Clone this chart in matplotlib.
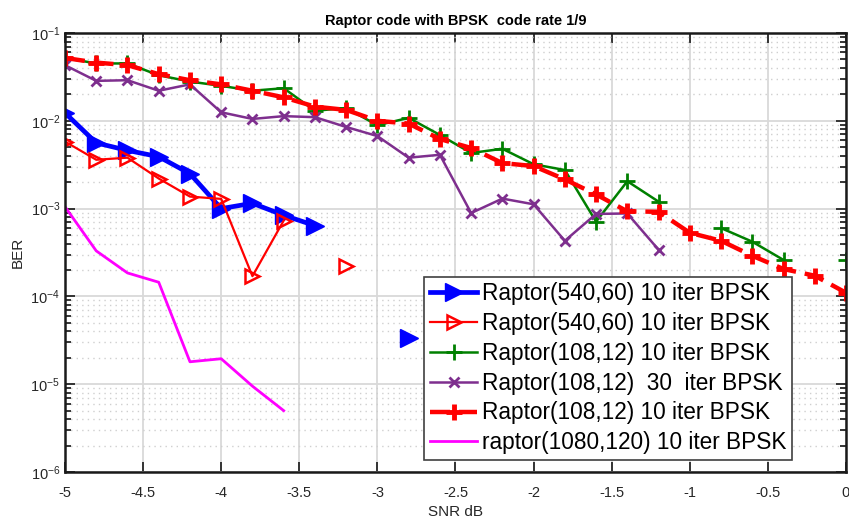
import numpy as np
import matplotlib
matplotlib.use("Agg")
import matplotlib.pyplot as plt
from matplotlib.ticker import LogLocator, NullFormatter, FixedLocator

plt.rcParams['font.family'] = ['Liberation Sans', 'DejaVu Sans']

# SNR grid (dB)
snr_blue = [-5, -4.8, -4.6, -4.4, -4.2, -4.0, -3.8, -3.6, -3.4, -3.2, -3.0, -2.8]
ber_blue = [1.23e-2, 5.6e-3, 4.6e-3, 3.9e-3, 2.5e-3, 1.0e-3, 1.15e-3, 8.4e-4, 6.4e-4,
            np.nan, np.nan, 3.4e-5]

snr_red_tri = [-5, -4.8, -4.6, -4.4, -4.2, -4.0, -3.8, -3.6, -3.4, -3.2]
ber_red_tri = [5.8e-3, 3.6e-3, 3.8e-3, 2.2e-3, 1.37e-3, 1.29e-3, 1.7e-4, 7.3e-4,
               np.nan, 2.2e-4]

snr_green = [-5, -4.8, -4.6, -4.4, -4.2, -4.0, -3.8, -3.6, -3.4, -3.2, -3.0, -2.8,
             -2.6, -2.4, -2.2, -2.0, -1.8, -1.6, -1.4, -1.2, -1.0, -0.8, -0.6,
             -0.4, -0.2, 0.0]
ber_green = [5.2e-2, 4.5e-2, 4.5e-2, 3.3e-2, 2.8e-2, 2.5e-2, 2.2e-2, 2.35e-2,
             1.3e-2, 1.4e-2, 8.9e-3, 1.08e-2, 6.9e-3, 4.3e-3, 4.8e-3, 3.2e-3,
             2.75e-3, 7.1e-4, 2.05e-3, 1.2e-3, np.nan, 6.0e-4, 4.2e-4, 2.6e-4,
             np.nan, 2.6e-4]

snr_purple = [-5, -4.8, -4.6, -4.4, -4.2, -4.0, -3.8, -3.6, -3.4, -3.2, -3.0, -2.8,
              -2.6, -2.4, -2.2, -2.0, -1.8, -1.6, -1.4, -1.2]
ber_purple = [4.3e-2, 2.85e-2, 2.9e-2, 2.2e-2, 2.6e-2, 1.25e-2, 1.05e-2, 1.13e-2,
              1.1e-2, 8.5e-3, 6.7e-3, 3.8e-3, 4.1e-3, 8.9e-4, 1.3e-3, 1.12e-3,
              4.3e-4, 8.7e-4, 8.8e-4, 3.4e-4]

snr_red_dash = [-5, -4.8, -4.6, -4.4, -4.2, -4.0, -3.8, -3.6, -3.4, -3.2, -3.0, -2.8,
                -2.6, -2.4, -2.2, -2.0, -1.8, -1.6, -1.4, -1.2, -1.0, -0.8, -0.6,
                -0.4, -0.2, 0.0]
ber_red_dash = [5.2e-2, 4.6e-2, 4.3e-2, 3.4e-2, 2.9e-2, 2.6e-2, 2.2e-2, 1.85e-2,
                1.45e-2, 1.33e-2, 1.0e-2, 9.3e-3, 6.2e-3, 4.9e-3, 3.3e-3, 3.05e-3,
                2.15e-3, 1.45e-3, 9.3e-4, 9.2e-4, 5.3e-4, 4.3e-4, 2.9e-4, 2.05e-4,
                1.72e-4, 1.1e-4]

snr_mag = [-5, -4.8, -4.6, -4.4, -4.2, -4.0, -3.8, -3.6]
ber_mag = [1.05e-3, 3.3e-4, 1.85e-4, 1.45e-4, 1.8e-5, 1.95e-5, 9.5e-6, 5.0e-6]

labels = ['Raptor(540,60) 10 iter BPSK',
          'Raptor(540,60) 10 iter BPSK',
          'Raptor(108,12) 10 iter BPSK',
          'Raptor(108,12)  30  iter BPSK',
          'Raptor(108,12) 10 iter BPSK',
          'raptor(1080,120) 10 iter BPSK']

purple = (0.494, 0.184, 0.556)
green = (0.0, 0.5, 0.0)

fig = plt.figure(figsize=(8.49, 5.18), dpi=100)
ax = fig.add_axes([65/849, 46/518, 781/849, 439/518])

ax.semilogy(snr_blue, ber_blue, '-', color='blue', lw=3.4, marker='>', ms=13,
            mfc='blue', mec='blue', label=labels[0])
ax.semilogy(snr_red_tri, ber_red_tri, '-', color='red', lw=1.6, marker='>', ms=10,
            mfc='none', mec='red', mew=1.8, label=labels[1])
ax.semilogy(snr_green, ber_green, '-', color=green, lw=1.8, marker='+', ms=11,
            mew=2, label=labels[2])
ax.semilogy(snr_purple, ber_purple, '-', color=purple, lw=1.8, marker='x', ms=7,
            mew=2, label=labels[3])
ax.semilogy(snr_red_dash, ber_red_dash, '--', color='red', lw=3.2, marker='+',
            ms=12, mew=3.5, dashes=(4.5, 2), label=labels[4])
ax.semilogy(snr_mag, ber_mag, '-', color='magenta', lw=2, label=labels[5])

ax.set_xlim(-5, 0)
ax.set_ylim(1e-6, 1e-1)
ax.xaxis.set_major_locator(FixedLocator(np.arange(-5, 0.01, 0.5)))
ax.set_xticklabels(['-5', '-4.5', '-4', '-3.5', '-3', '-2.5', '-2', '-1.5', '-1', '-0.5', '0'])
ax.yaxis.set_major_locator(LogLocator(base=10, numticks=10))
ax.yaxis.set_minor_locator(LogLocator(base=10, subs=np.arange(2, 10), numticks=20))
ax.yaxis.set_minor_formatter(NullFormatter())

ax.grid(True, which='major', color='#d9d9d9', lw=1.3)
ax.grid(True, which='minor', axis='y', color='#cfcfcf', lw=1.0, ls=(0, (1, 3)))
ax.set_axisbelow(True)

ax.tick_params(which='both', direction='in', top=True, right=True, labelsize=10.5,
               colors='#262626', width=1.3)
ax.tick_params(which='major', length=7)
ax.tick_params(which='minor', length=4)
ax.tick_params(axis='x', pad=10)
for s in ax.spines.values():
    s.set_linewidth(1.8)
    s.set_color('#1a1a1a')

ax.set_xlabel('SNR dB', fontsize=11, color='#262626', labelpad=4)
ax.set_ylabel('BER', fontsize=11, color='#262626')
ax.set_title('Raptor code with BPSK  code rate 1/9', fontsize=10.5, fontweight='bold', pad=6)

leg = ax.legend(loc='upper left', bbox_to_anchor=(0.46, 0.445), fontsize=16.3,
                frameon=True, fancybox=False, framealpha=1, edgecolor='#404040',
                handlelength=2.1, handletextpad=0.2, labelspacing=0.3,
                borderpad=0.25, borderaxespad=0)
leg.get_frame().set_linewidth(1.2)

fig.savefig('out.png', dpi=100)
